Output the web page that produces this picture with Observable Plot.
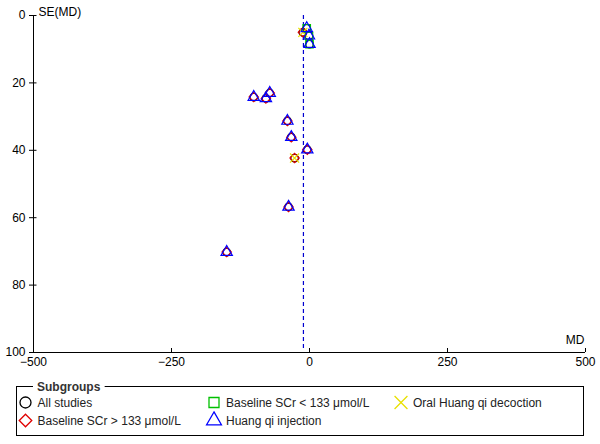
<!DOCTYPE html>
<html><head><meta charset="utf-8">
<script src="https://cdn.jsdelivr.net/npm/d3@7"></script>
<script src="https://cdn.jsdelivr.net/npm/@observablehq/plot@0.6"></script>
<style>
body{margin:0;background:#fff;font-family:"Liberation Sans",Arial,sans-serif;}
#chart{width:600px;height:444px;position:relative;overflow:hidden;}
#chart svg{display:block;}
</style></head><body><div id="chart"></div>
<script>
// Study data
const studyMD    = [-5, -12, -1, 0, -101, -79, -72, -40, -33, -4, -27, -38, -150];
const studySE    = [3.8, 5, 6, 8.5, 24.2, 24.6, 23.0, 31.3, 36.1, 39.8, 42.3, 56.8, 70.2];
const studySCr   = ["<133", ">133", "<133", "<133", ">133", ">133", ">133", ">133", ">133", ">133", ">133", ">133", ">133"];
const studyRoute = ["injection", "oral", "injection", "injection", "injection", "injection", "injection", "injection", "injection", "injection", "oral", "injection", "injection"];
const pooledMD = -11;

const xTicks = [-500, -250, 0, 250, 500];
const yTicks = [0, 20, 40, 60, 80, 100];
const xLabel = "MD";
const yLabel = "SE(MD)";

const legendTitle = "Subgroups";
const legendLabels  = ["All studies", "Baseline SCr > 133 μmol/L", "Baseline SCr < 133 μmol/L", "Huang qi injection", "Oral Huang qi decoction"];
const legendSymbols = ["circle", "diamond2", "square", "triangle", "times"];
const legendColors  = ["#000000", "#e00000", "#00c000", "#0000ff", "#e8e000"];

const rows = studyMD.map((m, i) => ({md: m, se: studySE[i], scr: studySCr[i], route: studyRoute[i]}));

const W = 600, H = 372;
const mL = 33, mR = 15, mT = 15, mB = 20;
const frameW = W - mL - mR, frameH = H - mT - mB;
const font = "Liberation Sans, Arial, sans-serif";

const symR = 4.2;
const chart = Plot.plot({
  width: W, height: H,
  marginLeft: mL, marginRight: mR, marginTop: mT, marginBottom: mB,
  style: {fontFamily: font, fontSize: "12px", color: "#000", background: "#fff"},
  x: {domain: [-500, 500]},
  y: {domain: [0, 100], reverse: true},
  marks: [
    Plot.ruleX([pooledMD], {stroke: "#0000d0", strokeDasharray: "4,3", strokeWidth: 1.2, insetBottom: 3}),
    Plot.ruleX([-500], {stroke: "#000"}),
    Plot.ruleY([100], {stroke: "#000"}),
    Plot.tickX(xTicks, {x: d => d, stroke: "#000", insetTop: frameH - 4}),
    Plot.tickY(yTicks, {y: d => d, stroke: "#000", insetRight: frameW - 3.5}),
    Plot.axisX(xTicks, {tickSize: 0, tickPadding: 5, fontSize: 12, label: null, fill: "#000"}),
    Plot.axisY(yTicks, {tickSize: 4, tickPadding: 4, fontSize: 12, label: null, fill: "#000", stroke: "#000"}),
    Plot.text([yLabel], {frameAnchor: "top-left", textAnchor: "start", dx: 5, dy: -8, fontSize: 12, fill: "#000"}),
    Plot.text([xLabel], {frameAnchor: "bottom-right", textAnchor: "end", dx: -1, dy: -9, fontSize: 12, fill: "#000"}),
    Plot.dot(rows, {x: "md", y: "se", symbol: "circle", r: 3.8, stroke: legendColors[0], fill: "none", strokeWidth: 1.2}),
    Plot.dot(rows.filter(d => d.scr === ">133"), {x: "md", y: "se", symbol: "diamond2", r: symR, stroke: legendColors[1], fill: "none", strokeWidth: 1.2}),
    Plot.dot(rows.filter(d => d.scr === "<133"), {x: "md", y: "se", symbol: "square", r: symR, stroke: legendColors[2], fill: "none", strokeWidth: 1.2}),
    Plot.dot(rows.filter(d => d.route === "oral"), {x: "md", y: "se", symbol: "times", r: symR, stroke: legendColors[4], fill: "none", strokeWidth: 1.2}),
    Plot.dot(rows.filter(d => d.route === "injection"), {x: "md", y: "se", symbol: "triangle", r: symR, stroke: legendColors[3], fill: "none", strokeWidth: 1.2})
  ]
});
document.getElementById("chart").appendChild(chart);

// Legend below the plot
const LH = 444 - H;
const leg = d3.select("#chart").append("svg")
  .attr("width", W).attr("height", LH)
  .style("font-family", font).style("font-size", "12px");
const boxTop = 14.5, boxLeft = 16.5, boxW = 567, boxH = 49;
leg.append("rect").attr("x", boxLeft).attr("y", boxTop).attr("width", boxW).attr("height", boxH)
  .attr("fill", "none").attr("stroke", "#000").attr("stroke-width", 1);
const tt = leg.append("text").attr("x", 37).attr("y", boxTop + 4).attr("font-weight", "bold").attr("fill", "#333").text(legendTitle);
const bb = tt.node().getBBox();
leg.insert("rect", "text").attr("x", bb.x - 4).attr("y", bb.y).attr("width", bb.width + 8).attr("height", bb.height).attr("fill", "#fff");

const colX = [25.5, 214, 401];
const rowY = [boxTop + 16, boxTop + 34];
const symSizes = {circle: 95, diamond2: 100, square: 100, triangle: 95, times: 110};
const symMap = {circle: d3.symbolCircle, diamond2: d3.symbolDiamond2, square: d3.symbolSquare, triangle: d3.symbolTriangle, times: d3.symbolTimes};
// layout order: column-major two rows
const slots = [[0,0],[0,1],[1,0],[1,1],[2,0]];
legendLabels.forEach((lab, i) => {
  const [c, r] = slots[i];
  const s = legendSymbols[i];
  leg.append("path")
    .attr("d", d3.symbol(symMap[s], symSizes[s])())
    .attr("transform", `translate(${colX[c]},${rowY[r]})`)
    .attr("fill", "none").attr("stroke", legendColors[i]).attr("stroke-width", 1.3);
  leg.append("text").attr("x", colX[c] + 12).attr("y", rowY[r]).attr("dy", "0.35em").attr("fill", "#222").text(lab);
});
</script></body></html>
